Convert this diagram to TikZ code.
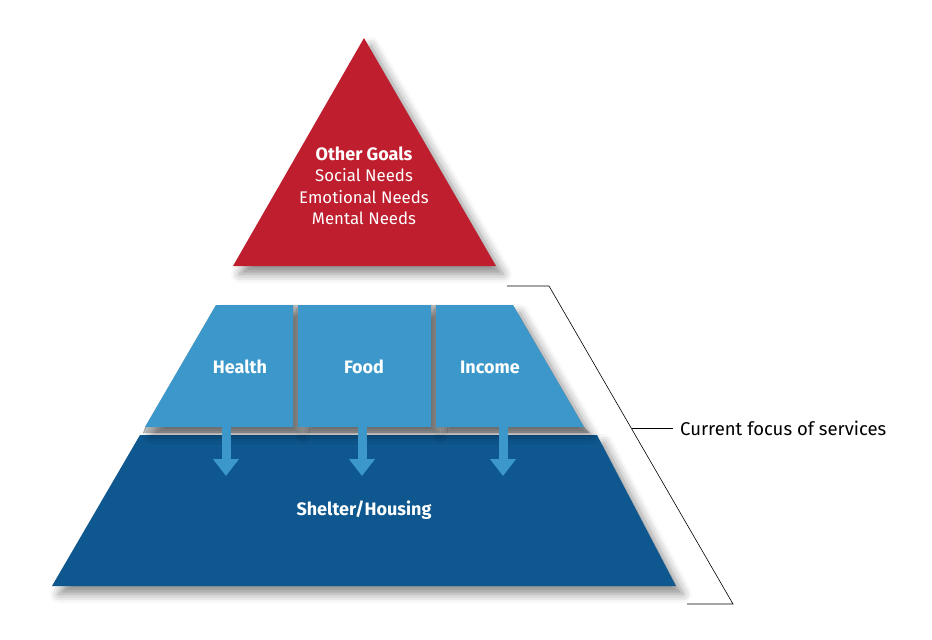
\documentclass[tikz,border=0pt]{standalone}
\usepackage{fontspec}
\setmainfont{Fira Sans}
\usetikzlibrary{shadows.blur,arrows.meta}
\definecolor{goalred}{HTML}{BE1E2D}
\definecolor{lightblue}{HTML}{3C98CA}
\definecolor{darkblue}{HTML}{0E578F}
\definecolor{gapgray}{HTML}{BDBDBD}
\begin{document}
\begin{tikzpicture}[x=1pt,y=-1pt,
  shapeshadow/.style={blur shadow={shadow xshift=7pt, shadow yshift=-8pt, shadow blur radius=9pt, shadow opacity=45}},
  lbl/.style={text=white, font=\fontsize{18}{20}\selectfont\bfseries, align=center},
  goaltext/.style={text=white, font=\fontsize{16.8}{21.5}\selectfont, align=center},
  downarrow/.style={lightblue, line width=9pt, -{Triangle[width=25pt,length=17pt]}},
  bracket/.style={black, line width=0.6pt},
  note/.style={font=\fontsize{18.5}{22}\selectfont, anchor=west, inner sep=0pt}]
\useasboundingbox (0,0) rectangle (932,640);
% top triangle
\fill[goalred, shapeshadow] (364,38) -- (496,266) -- (233,266) -- cycle;
\node[goaltext] (goals) at (364,186) {{\fontsize{18}{21.5}\selectfont\bfseries Other Goals}\\Social Needs\\Emotional Needs\\Mental Needs};
% bottom layer
\fill[darkblue, shapeshadow] (140,435) -- (597,435) -- (676,586) -- (52,586) -- cycle;
% gray gaps of middle layer
\fill[gapgray] (216,305) -- (513,305) -- (584,427) -- (590,433) -- (143,433) -- (145,427) -- cycle;
% middle layer panels
\fill[lightblue, shapeshadow] (216,305) -- (293,305) -- (293,427) -- (145,427) -- cycle;
\fill[lightblue, shapeshadow] (298,305) -- (431,305) -- (431,427) -- (298,427) -- cycle;
\fill[lightblue, shapeshadow] (436,305) -- (513,305) -- (584,427) -- (436,427) -- cycle;
\node[lbl] (health) at (240,367) {Health};
\node[lbl] (food) at (364,367) {Food};
\node[lbl] (income) at (490,367) {Income};
\node[lbl] (shelter) at (364,510) {Shelter/Housing};
% arrows
\coordinate (a1s) at (226,427); \coordinate (a1e) at (226,476);
\coordinate (a2s) at (362,427); \coordinate (a2e) at (362,476);
\coordinate (a3s) at (503,427); \coordinate (a3e) at (503,476);
\draw[downarrow] (a1s) -- (a1e);
\draw[downarrow] (a2s) -- (a2e);
\draw[downarrow] (a3s) -- (a3e);
% bracket
\coordinate (b1) at (507,286); \coordinate (b2) at (549,286);
\coordinate (b3) at (733,604); \coordinate (b4) at (687,604);
\coordinate (bt) at (632,428); \coordinate (bte) at (673,428);
\draw[bracket] (b1) -- (b2) -- (b3) -- (b4);
\draw[bracket] (bt) -- (bte);
\node[note] (focus) at (680,428) {Current focus of services};
\end{tikzpicture}
\end{document}
